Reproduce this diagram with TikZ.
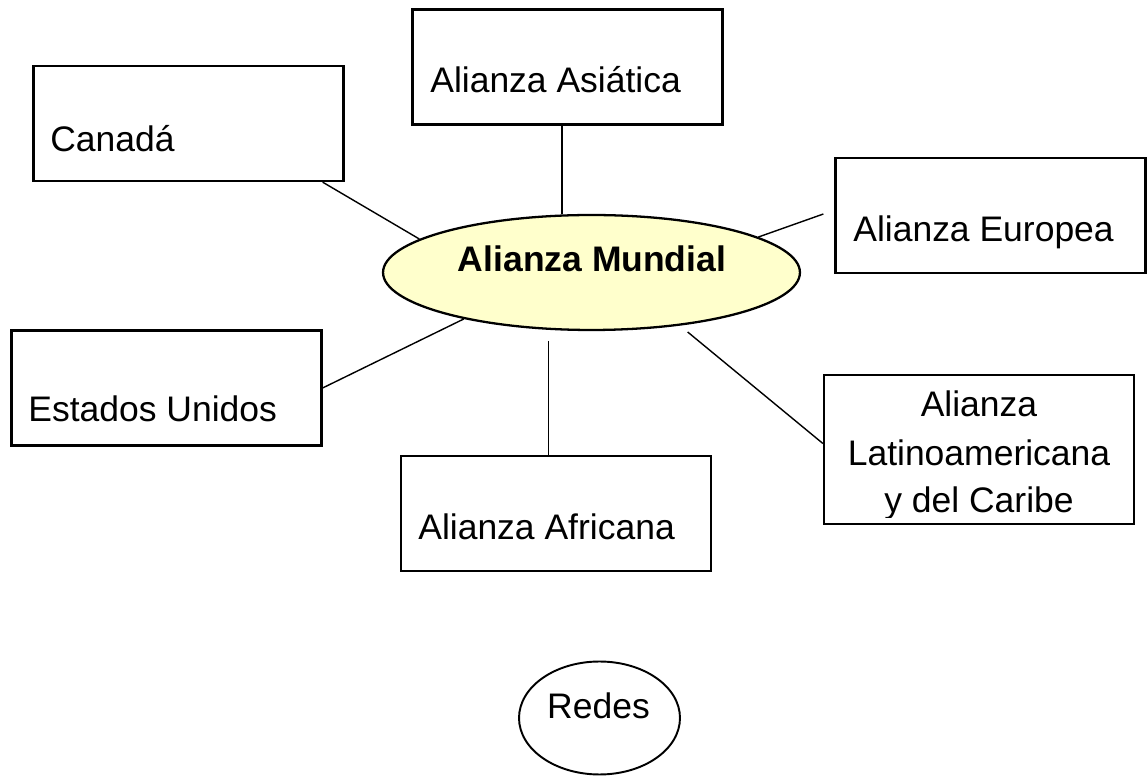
\documentclass[tikz,border=0pt]{standalone}
\usepackage{fontspec}
\setmainfont{Liberation Sans}
\usetikzlibrary{shapes.geometric,calc}
\definecolor{mundialyellow}{HTML}{FFFFCC}

\begin{document}
\begin{tikzpicture}[x=0.02cm, y=-0.02cm,
  every node/.style={font=\fontsize{20.2}{24}\selectfont, inner sep=0pt},
  box/.style={draw, line width=1.3pt, minimum width=6.2cm, minimum height=2.3cm},
  boxtext/.style={anchor=base west},
  spoke/.style={line width=0.8pt}]
\useasboundingbox (0,0) rectangle (1147,776);
% centre
\node[ellipse, draw, line width=1.3pt, fill=mundialyellow, minimum width=8.34cm, minimum height=2.3cm] (mundial) at (591.5,272.5) {};
\node[anchor=base, font=\fontsize{20.2}{24}\selectfont\bfseries] (mundialT) at (592,272) {Alianza Mundial};
% boxes round it
\node[box] (can) at (188.5,123.5) {};
\node[boxtext] (canT) at (50,152) {Canadá};
\node[box] (asia) at (567.5,67) {};
\node[boxtext] (asiaT) at (430,93) {Alianza Asiática};
\node[box] (euro) at (990.5,215.5) {};
\node[boxtext] (euroT) at (853,242) {Alianza Europea};
\node[box] (usa) at (166.5,388) {};
\node[boxtext] (usaT) at (28,422) {Estados Unidos};
\node[box] (afr) at (556,513.5) {};
\node[boxtext] (afrT) at (418,540) {Alianza Africana};
\node[box, minimum height=2.98cm] (latin) at (979,449.5) {};
\begin{scope}
\clip (latin.north west) rectangle ($(latin.south east)+(0,-8)$);
\node[anchor=base] (latinA) at (979,417) {Alianza};
\node[anchor=base] (latinB) at (979,466) {Latinoamericana};
\node[anchor=base] (latinC) at (979,513) {y del Caribe};
\end{scope}
% spokes
\draw[spoke] ($(can.south east)+(-22,0)$) -- (mundial.169.6);
\draw[spoke] (mundial.117.4) -- (mundial.117.4 |- asia.south);
\draw[spoke] (mundial.12.7) -- ($(euro.west)+(-11,-1.5)$);
\draw[spoke] (usa.east) -- (mundial.200.6);
\draw[spoke, shorten <=0.22cm] (mundial.233) -- (mundial.233 |- afr.north);
\draw[spoke, shorten <=0.2cm] (mundial.-31) -- ($(latin.west)+(0,-6)$);
% lone ellipse
\node[ellipse, draw, line width=1.1pt, minimum width=3.22cm, minimum height=2.26cm] (redes) at (599.5,718) {};
\node[anchor=base] (redesT) at (598.5,719) {Redes};
\end{tikzpicture}
\end{document}
